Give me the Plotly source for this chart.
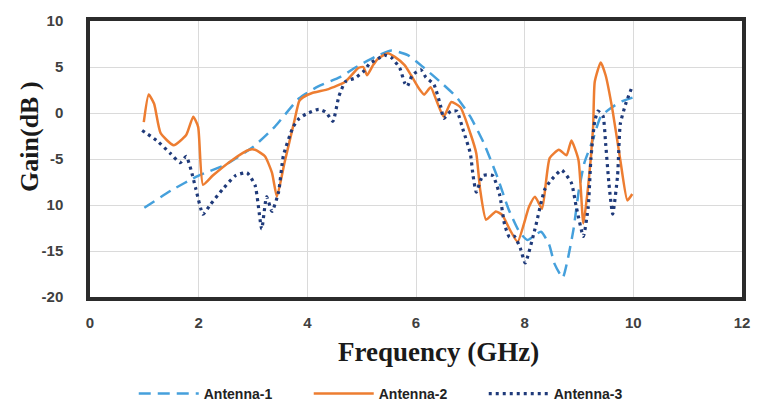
import plotly.graph_objects as go

# ---------------- data ----------------
a1_f = [1.0, 1.5, 2.0, 2.5, 3.0, 3.4, 3.85, 4.2, 4.6, 4.9, 5.25, 5.55, 5.85, 6.15, 6.5, 6.75,
        7.0, 7.25, 7.5, 7.7, 7.9, 8.05, 8.3, 8.45, 8.55, 8.7, 8.8, 8.9, 9.0, 9.1, 9.25, 9.4,
        9.6, 9.8, 10.0]
a1_g = [-10.3, -8.4, -6.8, -5.6, -3.7, -1.5, 1.6, 2.9, 3.9, 5.0, 6.1, 6.8, 6.3, 4.9, 3.1, 1.7,
        -0.4, -3.3, -7.0, -10.4, -12.9, -13.8, -12.9, -14.3, -16.4, -17.9, -15.7, -12.6, -8.3,
        -5.4, -3.0, -0.4, 0.6, 1.3, 1.7]

a2_f = [0.99, 1.08, 1.18, 1.30, 1.54, 1.77, 1.90, 1.99, 2.08, 2.26, 2.62, 2.93, 3.04, 3.22,
        3.35, 3.44, 3.58, 3.76, 3.85, 3.92, 4.10, 4.39, 4.70, 4.94, 5.03, 5.10, 5.21, 5.30,
        5.48, 5.61, 5.79, 5.91, 6.06, 6.15, 6.27, 6.38, 6.51, 6.65, 6.82, 7.00, 7.11, 7.18,
        7.29, 7.47, 7.59, 7.72, 7.87, 8.08, 8.19, 8.32, 8.46, 8.63, 8.77, 8.86, 8.99, 9.08,
        9.17, 9.26, 9.29, 9.40, 9.49, 9.62, 9.76, 9.89, 9.98]
a2_g = [-1.0, 2.0, 1.0, -2.2, -3.5, -2.4, -0.4, -1.5, -7.8, -6.8, -5.1, -4.0, -4.0, -4.7,
        -6.5, -9.1, -5.4, -0.9, 1.3, 1.7, 2.2, 2.6, 3.4, 4.9, 5.0, 4.1, 5.2, 5.9,
        6.5, 6.1, 5.2, 4.1, 2.6, 2.0, 2.8, 1.3, -0.4, 1.2, 0.6, -2.2, -4.4, -8.3,
        -11.6, -10.7, -11.1, -12.6, -14.0, -10.2, -9.1, -10.4, -4.9, -4.0, -4.6, -3.0, -5.1, -12.0,
        -7.9, -1.5, 3.4, 5.5, 4.1, 0.2, -5.1, -9.5, -8.8]

a3_f = [0.96, 1.23, 1.48, 1.66, 1.77, 1.86, 1.95, 2.08, 2.21, 2.44, 2.68, 2.89, 3.04, 3.16,
        3.25, 3.35, 3.47, 3.56, 3.74, 3.85, 3.98, 4.21, 4.34, 4.47, 4.58, 4.70, 4.88, 5.03,
        5.15, 5.30, 5.42, 5.55, 5.70, 5.79, 5.84, 5.93, 6.09, 6.18, 6.33, 6.46, 6.51, 6.64,
        6.75, 6.87, 7.00, 7.05, 7.11, 7.23, 7.41, 7.54, 7.63, 7.72, 7.81, 7.92, 8.01, 8.19,
        8.37, 8.50, 8.68, 8.86, 8.95, 9.08, 9.17, 9.22, 9.29, 9.35, 9.44, 9.49, 9.55, 9.62,
        9.71, 9.76, 9.86, 9.98]
a3_g = [-1.9, -3.0, -4.4, -5.4, -4.7, -6.2, -8.3, -11.0, -10.0, -8.3, -6.8, -6.5, -7.9, -12.6,
        -9.1, -10.7, -8.6, -4.6, -1.5, -0.6, -0.1, 0.4, 0.1, -0.9, 1.8, 3.4, 3.8, 4.5,
        5.4, 5.9, 6.3, 6.0, 4.9, 3.3, 2.9, 4.1, 4.7, 3.9, 3.1, 0.6, -0.6, 0.2,
        0.2, -1.9, -4.4, -6.8, -8.6, -6.8, -6.8, -8.9, -12.1, -13.5, -13.4, -14.7, -16.3, -12.6,
        -8.3, -7.2, -6.2, -7.6, -10.2, -13.4, -10.2, -4.9, -0.9, 0.2, -0.3, -3.3, -7.6, -11.0,
        -6.8, -1.2, 1.0, 2.9]

y_ticks = [-20, -15, -10, -5, 0, 5, 10]
y_ticktext = ["-20", "-15", "10", "-5", "0", "5", "10"]
x_ticks = [0, 2, 4, 6, 8, 10, 12]

# ---------------- figure ----------------
fig = go.Figure()
fig.add_trace(go.Scatter(x=a1_f, y=a1_g, mode="lines", name="Antenna-1",
                         line=dict(color="#45a0dc", width=2.5, dash="12px,7px",
                                   shape="spline", smoothing=0.5)))
fig.add_trace(go.Scatter(x=a2_f, y=a2_g, mode="lines", name="Antenna-2",
                         line=dict(color="#ed7d31", width=2.5, shape="spline", smoothing=0.5)))
fig.add_trace(go.Scatter(x=a3_f, y=a3_g, mode="lines", name="Antenna-3",
                         line=dict(color="#1f3a7a", width=3.2, dash="3px,4px",
                                   shape="spline", smoothing=0.5)))

tick_font = dict(family="Liberation Sans, Arial, sans-serif", size=15, color="#404040",
                 weight="bold")

fig.update_layout(
    width=762, height=410,
    margin=dict(l=90, r=12, t=15, b=113),
    paper_bgcolor="white", plot_bgcolor="white",
    showlegend=True,
    legend=dict(orientation="h", xref="container", yref="container",
                x=0.52, y=0.0, xanchor="center", yanchor="bottom",
                font=dict(family="Liberation Sans, Arial, sans-serif", size=14,
                          color="#222222", weight="bold"),
                itemwidth=60, entrywidth=100, tracegroupgap=0),
    xaxis=dict(range=[0, 12], tickvals=x_ticks, showgrid=True, gridcolor="#dadada",
               gridwidth=1, zeroline=False, showline=True, linecolor="#2b2b2b",
               linewidth=3.5, mirror=True, ticks="",
               tickfont=tick_font, ticklabelstandoff=9),
    yaxis=dict(range=[-20, 10], tickvals=y_ticks, ticktext=y_ticktext, showgrid=True,
               gridcolor="#dadada", gridwidth=1, zeroline=False, showline=True,
               linecolor="#2b2b2b", linewidth=3.5, mirror=True, ticks="",
               tickfont=tick_font, ticklabelstandoff=20),
    annotations=[
        dict(text="Frequency (GHz)", xref="paper", yref="paper", x=0.535, y=-0.20,
             xanchor="center", yanchor="middle", showarrow=False,
             font=dict(family="Liberation Serif, Times New Roman, serif", size=27,
                       color="#1a1a1a", weight="bold")),
        dict(text="Gain(dB )", xref="paper", yref="paper", x=-0.092, y=0.58,
             xanchor="center", yanchor="middle", showarrow=False, textangle=-90,
             font=dict(family="Liberation Serif, Times New Roman, serif", size=26,
                       color="#1a1a1a", weight="bold")),
    ],
)

fig.write_html("out.html")
